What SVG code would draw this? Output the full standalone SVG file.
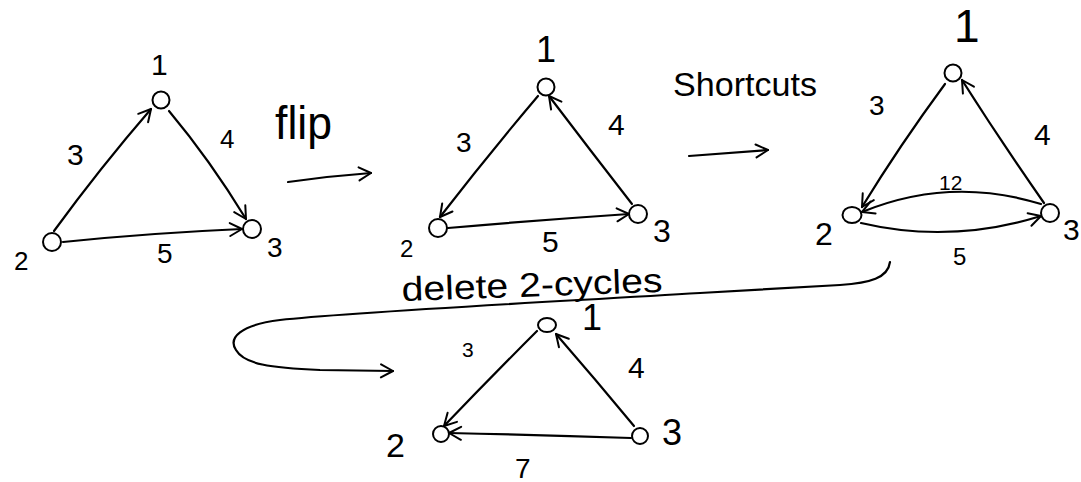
<svg xmlns="http://www.w3.org/2000/svg" width="1081" height="482" viewBox="0 0 1081 482">
<defs>
<marker id="ah" markerUnits="userSpaceOnUse" markerWidth="20" markerHeight="20" refX="14" refY="8" orient="auto">
<path d="M2,1.5 L14,8 L2,14.5" fill="none" stroke="#000" stroke-width="2" stroke-linecap="round" stroke-linejoin="round"/>
</marker>
<style>
.e{fill:none;stroke:#000;stroke-width:2.2;stroke-linecap:round;marker-end:url(#ah)}
.n{fill:#fff;stroke:#000;stroke-width:2}
.t{font-family:"Liberation Sans",Arial,sans-serif;fill:#000}
</style>
</defs>
<rect width="1081" height="482" fill="#fff"/>
<g id="connectors">
<!-- graph A -->
<path class="e" d="M54,231 Q100,168 151,109"/>
<path class="e" d="M169,111 Q210,160 246,219"/>
<path class="e" d="M63,242 Q150,233 242,229"/>
<!-- flip arrow -->
<path class="e" d="M288,182 Q330,176 371,173"/>
<!-- graph B -->
<path class="e" d="M538,96 Q488,155 440,217"/>
<path class="e" d="M632,204 Q590,150 549,96"/>
<path class="e" d="M448,228 Q540,220 629,214"/>
<!-- shortcuts arrow -->
<path class="e" d="M689,156 Q730,153 768,150"/>
<!-- graph C -->
<path class="e" d="M945,84 Q900,145 862,207"/>
<path class="e" d="M1044,203 Q1000,140 962,80"/>
<path class="e" d="M1041,204 Q950,176 862,212"/>
<path class="e" d="M861,223 Q950,244 1041,216"/>
<!-- delete 2-cycles arrow -->
<path class="e" d="M890,262 C888,278 870,283 840,285 L700,293 C550,302 350,312 280,320 C240,325 228,338 236,350 C244,364 270,368 320,370 L393,371"/>
<!-- graph D -->
<path class="e" d="M537,331 Q490,378 444,426"/>
<path class="e" d="M634,426 Q596,380 556,334"/>
<path class="e" d="M631,438 Q540,435 449,433"/>
</g>
<g id="graphA">
<g id="A1"><circle class="n" cx="161" cy="100" r="8.5"/><text class="t" x="151" y="75" font-size="30">1</text></g>
<g id="A2"><circle class="n" cx="52" cy="242" r="9"/><text class="t" x="14" y="270" font-size="26">2</text></g>
<g id="A3"><circle class="n" cx="252" cy="229" r="9"/><text class="t" x="267" y="257" font-size="28">3</text></g>
<text class="t" x="67" y="165" font-size="30">3</text>
<text class="t" x="220" y="148" font-size="26">4</text>
<text class="t" x="157" y="263" font-size="28">5</text>
</g>
<text class="t" x="275" y="139" font-size="46" textLength="57" lengthAdjust="spacingAndGlyphs">flip</text>
<g id="graphB">
<g id="B1"><circle class="n" cx="546" cy="87" r="8.5"/><text class="t" x="536" y="62" font-size="36">1</text></g>
<g id="B2"><circle class="n" cx="438" cy="228" r="9"/><text class="t" x="400" y="257" font-size="24">2</text></g>
<g id="B3"><circle class="n" cx="638" cy="214" r="9"/><text class="t" x="653" y="242" font-size="32">3</text></g>
<text class="t" x="456" y="152" font-size="28">3</text>
<text class="t" x="608" y="135" font-size="30">4</text>
<text class="t" x="542" y="252" font-size="30">5</text>
</g>
<text class="t" x="673" y="96" font-size="34" textLength="144" lengthAdjust="spacingAndGlyphs">Shortcuts</text>
<g id="graphC">
<g id="C1"><circle class="n" cx="953" cy="73" r="8.5"/><text class="t" x="954" y="42" font-size="46">1</text></g>
<g id="C2"><ellipse class="n" cx="852" cy="215" rx="9.5" ry="8"/><text class="t" x="815" y="245" font-size="32">2</text></g>
<g id="C3"><circle class="n" cx="1050" cy="213" r="9"/><text class="t" x="1063" y="240" font-size="30">3</text></g>
<text class="t" x="869" y="115" font-size="28">3</text>
<text class="t" x="1034" y="145" font-size="30">4</text>
<text class="t" x="939" y="190" font-size="21">12</text>
<text class="t" x="953" y="265" font-size="24">5</text>
</g>
<text class="t" x="402" y="301" font-size="34" textLength="261" lengthAdjust="spacingAndGlyphs" transform="rotate(-2 402 301)">delete 2-cycles</text>
<g id="graphD">
<g id="D1"><ellipse class="n" cx="547" cy="325" rx="9" ry="7"/><text class="t" x="582" y="330" font-size="36">1</text></g>
<g id="D2"><circle class="n" cx="441" cy="434" r="8"/><text class="t" x="386" y="457" font-size="34">2</text></g>
<g id="D3"><circle class="n" cx="640" cy="436" r="8"/><text class="t" x="662" y="445" font-size="36">3</text></g>
<text class="t" x="462" y="357" font-size="21">3</text>
<text class="t" x="628" y="378" font-size="30">4</text>
<text class="t" x="515" y="478" font-size="28">7</text>
</g>
</svg>
